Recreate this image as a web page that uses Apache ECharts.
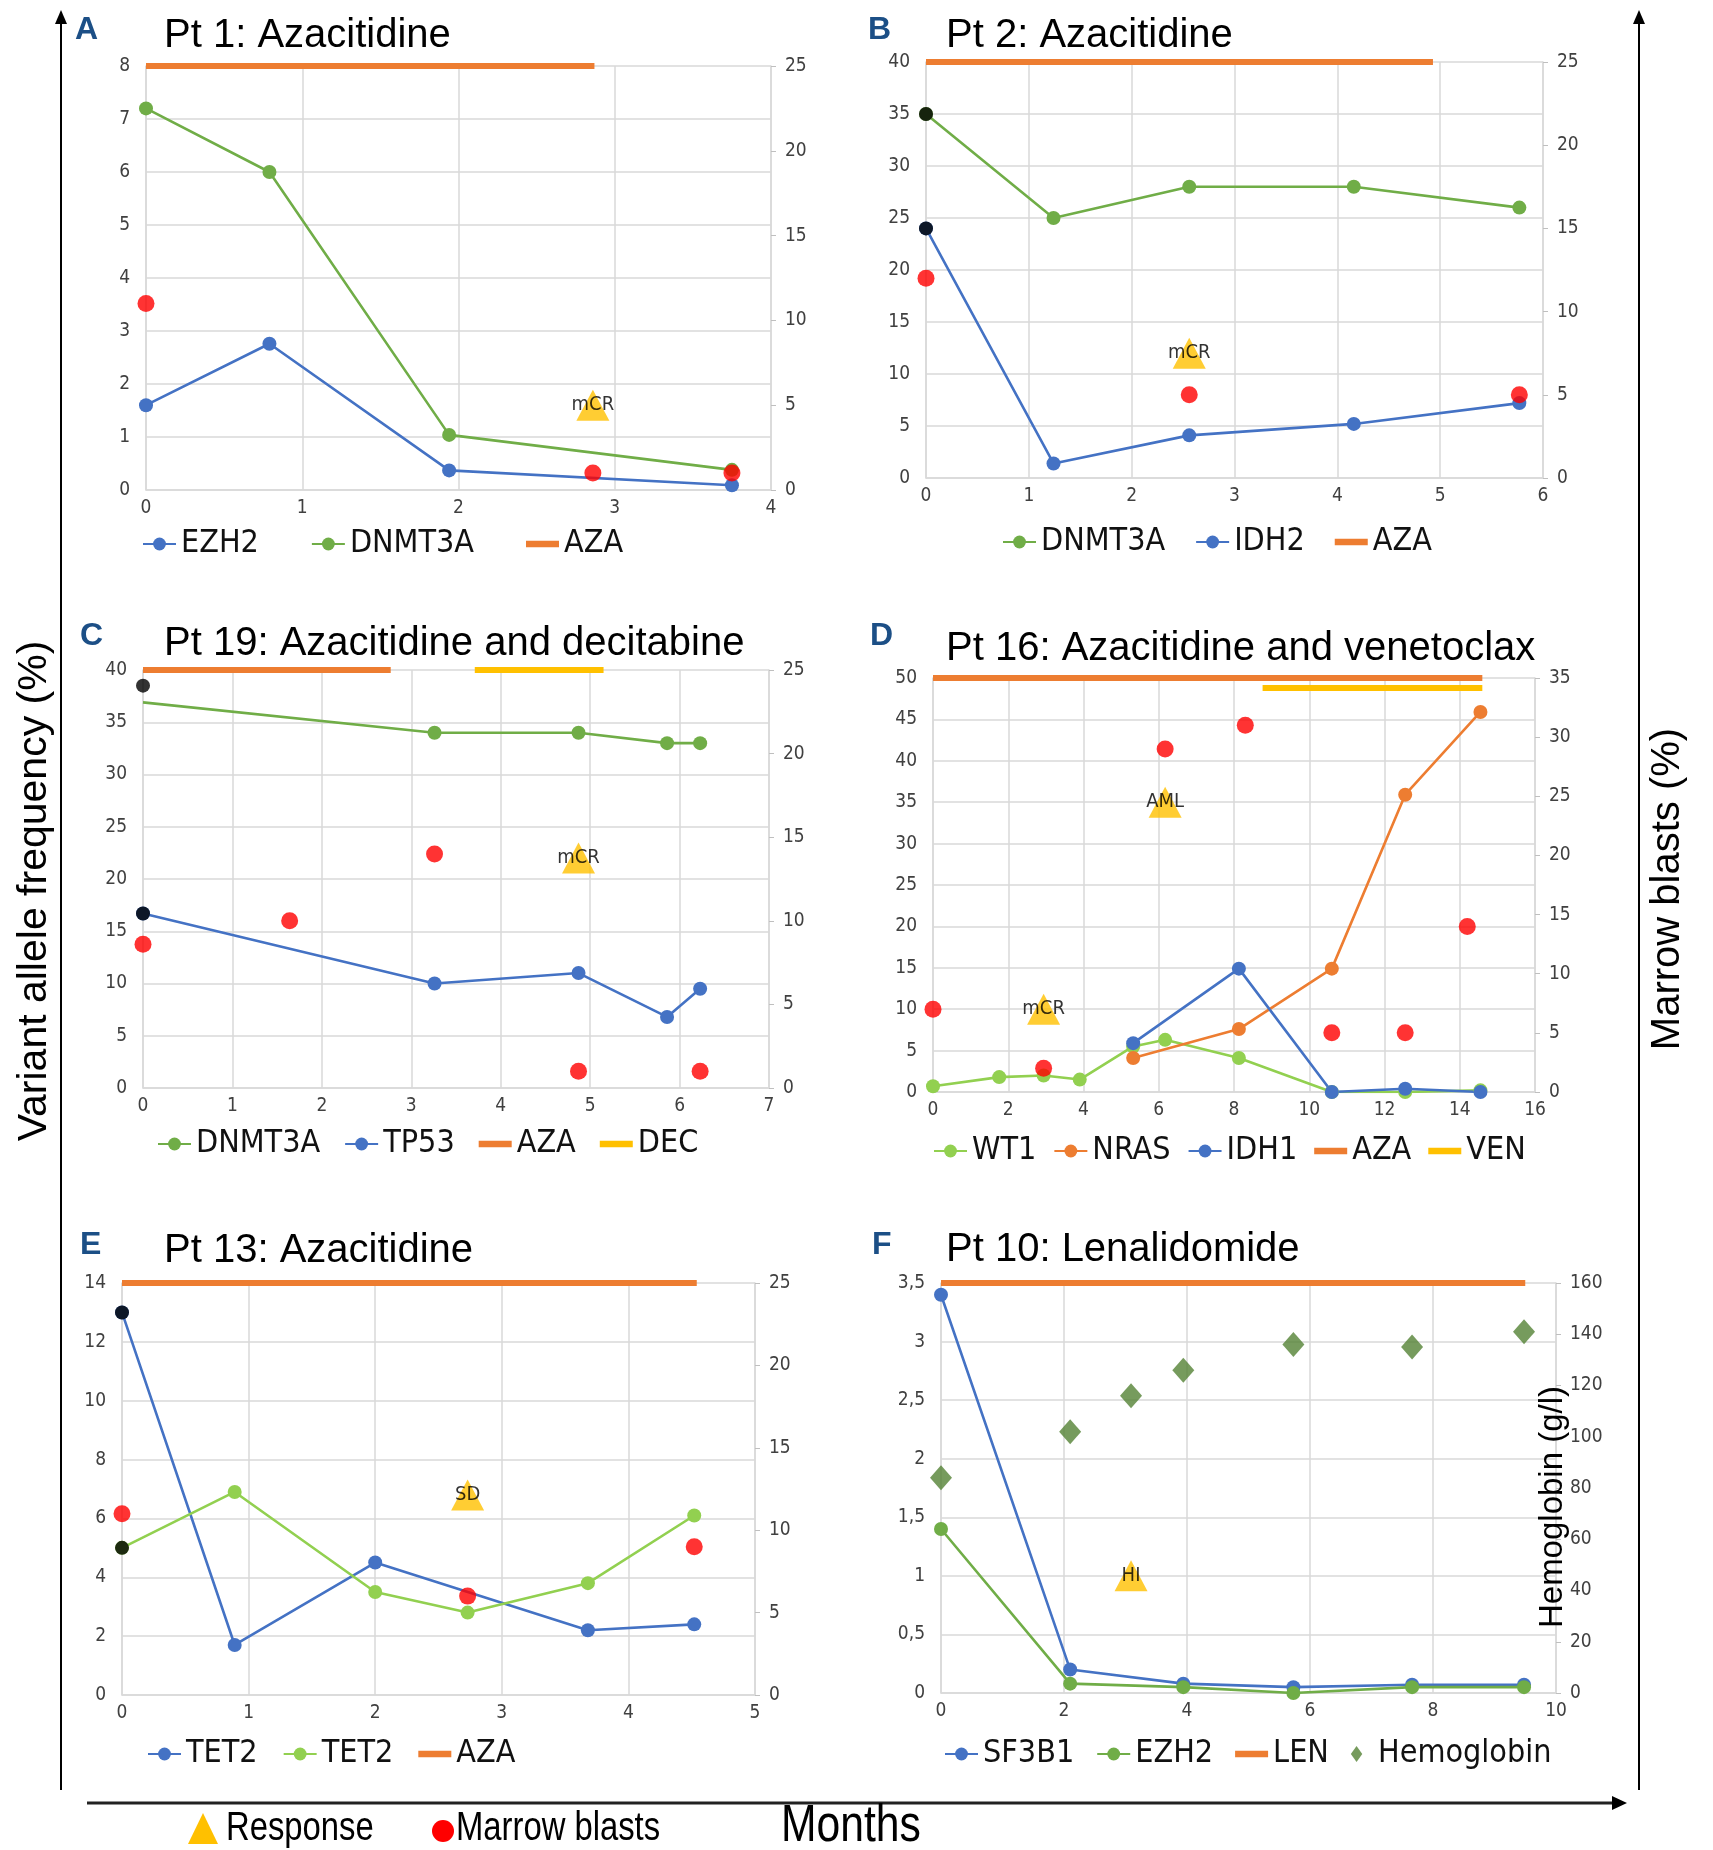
<!DOCTYPE html>
<html>
<head>
<meta charset="utf-8">
<script src="https://cdn.jsdelivr.net/npm/echarts@6/dist/echarts.min.js"></script>
<style>
  body { margin: 0; background: #fff; }
  .layer { position: absolute; left: 0; top: 0; width: 1713px; height: 1850px; }
</style>
</head>
<body>
<div id="bg" class="layer"></div>
<div id="pA" class="layer"></div>
<div id="pB" class="layer"></div>
<div id="pC" class="layer"></div>
<div id="pD" class="layer"></div>
<div id="pE" class="layer"></div>
<div id="pF" class="layer"></div>
<script type="text/javascript">
// ---- data (months on x, VAF % on left axis, marrow blasts % on right axis) ----
// A: Pt 1
var aMonths = [0, 0.79, 1.94, 3.75];
var aEzh2 = [1.6, 2.76, 0.37, 0.09];
var aDnmt3a = [7.2, 6.0, 1.04, 0.38];
var aBlastMonths = [0, 2.86, 3.75];
var aBlasts = [11, 1, 1];
var aRespMonths = [2.86], aRespLevel = [1.6], aRespText = ['mCR'];
var aAza = [0, 2.87];

// B: Pt 2
var bMonths = [0, 1.24, 2.56, 4.16, 5.77];
var bDnmt3a = [35, 25, 28, 28, 26];
var bIdh2 = [24, 1.4, 4.1, 5.2, 7.2];
var bBaseline = [35, 24];
var bBlastMonths = [0, 2.56, 5.77];
var bBlasts = [12, 5, 5];
var bRespMonths = [2.56], bRespLevel = [12], bRespText = ['mCR'];
var bAza = [0, 4.93];

// C: Pt 19
var cMonths = [0, 3.26, 4.87, 5.86, 6.23];
var cDnmt3a = [36.9, 34, 34, 33, 33];
var cTp53 = [16.7, 10, 11, 6.8, 9.5];
var cBaseline = [38.5, 16.7];
var cBlastMonths = [0, 1.64, 3.26, 4.87, 6.23];
var cBlasts = [8.6, 10, 14, 1, 1];
var cRespMonths = [4.87], cRespLevel = [22], cRespText = ['mCR'];
var cAza = [0, 2.77];
var cDec = [3.71, 5.15];

// D: Pt 16
var dWt1Months = [0, 1.76, 2.94, 3.9, 5.32, 6.17, 8.13, 10.6, 12.55, 14.55];
var dWt1 = [0.7, 1.8, 2.0, 1.5, 5.5, 6.3, 4.1, 0, 0, 0.2];
var dMonths = [5.32, 8.13, 10.6, 12.55, 14.55];
var dNras = [4.1, 7.6, 14.9, 35.9, 45.9];
var dIdh1 = [5.9, 14.9, 0, 0.4, 0];
var dBlastMonths = [0, 2.94, 6.17, 8.3, 10.6, 12.55, 14.2];
var dBlasts = [7, 2, 29, 31, 5, 5, 14];
var dRespMonths = [2.94, 6.17], dRespLevel = [10, 35], dRespText = ['mCR', 'AML'];
var dAza = [0, 14.6];
var dVen = [8.76, 14.6];
var dVenLevel = 48.8;

// E: Pt 13
var eMonths1 = [0, 0.89, 2.0, 3.68, 4.52];
var eTet2a = [13, 1.7, 4.5, 2.2, 2.4];
var eMonths2 = [0, 0.89, 2.0, 2.73, 3.68, 4.52];
var eTet2b = [5, 6.9, 3.5, 2.8, 3.8, 6.1];
var eBaseline = [13, 5];
var eBlastMonths = [0, 2.73, 4.52];
var eBlasts = [11, 6, 9];
var eRespMonths = [2.73], eRespLevel = [6.8], eRespText = ['SD'];
var eAza = [0, 4.54];

// F: Pt 10
var fMonths = [0, 2.1, 3.94, 5.73, 7.66, 9.48];
var fSf3b1 = [3.4, 0.2, 0.08, 0.05, 0.07, 0.07];
var fEzh2 = [1.4, 0.08, 0.05, 0.0, 0.05, 0.05];
var fHbMonths = [0, 2.1, 3.09, 3.94, 5.73, 7.66, 9.48];
var fHb = [84, 102, 116, 126, 136, 135, 141];
var fRespMonths = [3.09], fRespLevel = [1.0], fRespText = ['HI'];
var fLen = [0, 9.5];

// ---- styles ----
var NARROW = "'Liberation Sans Narrow', 'Arial Narrow', 'DejaVu Sans Condensed', sans-serif";
var SANS = "'Liberation Sans', Arial, sans-serif";
var BLUE = '#4472c4', GREEN = '#70ad47', LIME = '#92d050', ORANGE = '#ed7d31',
    GOLD = '#ffc000', RED = '#ff0000', GRIDC = '#d9d9d9', HBC = '#548235';
var BAR_ICON = 'path://M0,0 H40 V8 H0 Z';
var DIAMOND_ICON = 'path://M5,0 L10,7 L5,14 L0,7 Z';

function xy(xs, ys) {
  return xs.map(function (x, i) { return [x, ys[i]]; });
}

function gene(name, color, xs, ys) {
  return {
    name: name, type: 'line', data: xy(xs, ys),
    symbol: 'circle', symbolSize: 14,
    itemStyle: { color: color }, lineStyle: { color: color, width: 2.6 }, z: 3
  };
}

function drug(name, color, span, level) {
  return {
    name: name, type: 'line', data: [[span[0], level], [span[1], level]],
    symbol: 'none', itemStyle: { color: color },
    lineStyle: { color: color, width: 6 }, clip: false, z: 2
  };
}

function blasts(xs, ys) {
  return {
    name: 'Marrow blasts', type: 'scatter', yAxisIndex: 1, data: xy(xs, ys),
    symbolSize: 17, itemStyle: { color: RED }, z: 6
  };
}

function baseline(ys) {
  return {
    name: 'baseline', type: 'scatter', data: ys.map(function (y) { return [0, y]; }),
    symbolSize: 14, itemStyle: { color: '#000' }, z: 7
  };
}

function response(xs, ys, texts) {
  return {
    name: 'Response', type: 'scatter', data: xy(xs, ys),
    symbol: 'triangle', symbolSize: [33, 31], itemStyle: { color: GOLD }, z: 4,
    label: {
      show: true, position: 'inside', color: '#000', fontSize: 20, fontFamily: NARROW,
      formatter: function (p) { return texts[p.dataIndex]; }
    }
  };
}

function makePanel(id, p) {
  var chart = echarts.init(document.getElementById(id));
  var tick = { fontSize: 19, fontFamily: NARROW, color: '#404040' };
  var icons = p.legend.icons || {};
  chart.setOption({
    animation: false,
    title: [
      { text: p.letter, left: p.letterAt[0], top: p.letterAt[1], padding: 0,
        textStyle: { fontSize: 32, fontWeight: 'bold', fontFamily: SANS, color: '#1c4f86', lineHeight: 32 } },
      { text: p.title, left: p.titleAt[0], top: p.titleAt[1], padding: 0,
        textStyle: { fontSize: 40, fontWeight: 'normal', fontFamily: SANS, color: '#000', lineHeight: 40 } }
    ],
    legend: {
      left: p.legend.left, top: p.legend.top, itemGap: p.legend.gap,
      itemWidth: 33, itemHeight: 16, padding: 0, selectedMode: false,
      data: p.legend.names.map(function (n) {
        return icons[n] ? { name: n, icon: icons[n] } : { name: n };
      }),
      formatter: function (n) { return n.replace(/\s+$/, ''); },
      textStyle: { fontSize: 32, fontFamily: NARROW, color: '#111', lineHeight: 36 }
    },
    grid: { left: p.grid[0], top: p.grid[1], width: p.grid[2], height: p.grid[3] },
    xAxis: {
      type: 'value', min: 0, max: p.x[0], interval: p.x[1],
      axisLine: { show: true, lineStyle: { color: GRIDC, width: 1.5 } },
      axisTick: { show: false },
      splitLine: { show: true, lineStyle: { color: GRIDC, width: 1.5 } },
      axisLabel: Object.assign({ margin: 9 }, tick)
    },
    yAxis: [
      {
        type: 'value', min: 0, max: p.yL[0], interval: p.yL[1],
        axisLine: { show: true, lineStyle: { color: GRIDC, width: 1.5 } },
        axisTick: { show: false },
        splitLine: { show: true, lineStyle: { color: GRIDC, width: 1.5 } },
        axisLabel: Object.assign({ margin: 16, formatter: p.fmt }, tick)
      },
      {
        type: 'value', position: 'right', min: 0, max: p.yR[0], interval: p.yR[1],
        axisLine: { show: true, lineStyle: { color: GRIDC, width: 1.5 } },
        axisTick: { show: true, length: 5, lineStyle: { color: '#bfbfbf' } },
        splitLine: { show: false },
        axisLabel: Object.assign({ margin: 14 }, tick)
      }
    ],
    graphic: p.graphic || [],
    series: p.series
  });
  return chart;
}

function caption(x, y, text, size, rot, sx) {
  return {
    type: 'text', x: x, y: y, rotation: rot || 0, scaleX: sx || 1,
    style: { text: text, fontSize: size, fontFamily: SANS, fill: '#000',
             align: rot ? 'center' : 'left', verticalAlign: 'middle',
             textAlign: rot ? 'center' : 'left', textVerticalAlign: 'middle' }
  };
}

// ---- page decorations: arrows, axis captions, symbol key ----
var bg = echarts.init(document.getElementById('bg'));
bg.setOption({
  animation: false,
  graphic: [
    { type: 'line', shape: { x1: 61, y1: 1790, x2: 61, y2: 20 }, style: { stroke: '#000', lineWidth: 2 } },
    { type: 'polygon', shape: { points: [[55, 24], [67, 24], [61, 10]] }, style: { fill: '#000' } },
    { type: 'line', shape: { x1: 1639, y1: 1790, x2: 1639, y2: 20 }, style: { stroke: '#000', lineWidth: 2 } },
    { type: 'polygon', shape: { points: [[1633, 24], [1645, 24], [1639, 10]] }, style: { fill: '#000' } },
    { type: 'line', shape: { x1: 87, y1: 1803, x2: 1616, y2: 1803 }, style: { stroke: '#222', lineWidth: 3 } },
    { type: 'polygon', shape: { points: [[1612, 1796], [1612, 1810], [1627, 1803]] }, style: { fill: '#000' } },
    caption(35, 891, 'Variant allele frequency (%)', 41, Math.PI / 2),
    caption(1668, 889, 'Marrow blasts (%)', 40, Math.PI / 2),
    { type: 'polygon', shape: { points: [[188, 1844], [218, 1844], [203, 1813]] }, style: { fill: GOLD } },
    caption(226, 1829, 'Response', 40, 0, 0.82),
    { type: 'circle', shape: { cx: 443, cy: 1831, r: 11 }, style: { fill: RED } },
    caption(456, 1829, 'Marrow blasts', 40, 0, 0.82),
    caption(781, 1827, 'Months', 52, 0, 0.82)
  ]
});

// ---- panels ----
makePanel('pA', {
  letter: 'A', letterAt: [75, 14], title: 'Pt 1: Azacitidine', titleAt: [164, 16],
  grid: [146, 66, 625, 424], x: [4, 1], yL: [8, 1], yR: [25, 5],
  legend: { left: 142, top: 526, gap: 52, names: ['EZH2', 'DNMT3A', 'AZA'], icons: { AZA: BAR_ICON } },
  series: [
    drug('AZA', ORANGE, aAza, 8),
    gene('EZH2', BLUE, aMonths, aEzh2),
    gene('DNMT3A', GREEN, aMonths, aDnmt3a),
    response(aRespMonths, aRespLevel, aRespText),
    blasts(aBlastMonths, aBlasts)
  ]
});

makePanel('pB', {
  letter: 'B', letterAt: [868, 14], title: 'Pt 2: Azacitidine', titleAt: [946, 16],
  grid: [926, 62, 617, 416], x: [6, 1], yL: [40, 5], yR: [25, 5],
  legend: { left: 1002, top: 524, gap: 30, names: ['DNMT3A', 'IDH2', 'AZA'], icons: { AZA: BAR_ICON } },
  series: [
    drug('AZA', ORANGE, bAza, 40),
    gene('DNMT3A', GREEN, bMonths, bDnmt3a),
    gene('IDH2', BLUE, bMonths, bIdh2),
    baseline(bBaseline),
    response(bRespMonths, bRespLevel, bRespText),
    blasts(bBlastMonths, bBlasts)
  ]
});

var cGreen = gene('DNMT3A', GREEN, cMonths, cDnmt3a);
cGreen.symbol = function (v, params) { return params.dataIndex === 0 ? 'none' : 'circle'; };
makePanel('pC', {
  letter: 'C', letterAt: [80, 620], title: 'Pt 19: Azacitidine and decitabine', titleAt: [164, 624],
  grid: [143, 670, 626, 418], x: [7, 1], yL: [40, 5], yR: [25, 5],
  legend: { left: 157, top: 1126, gap: 24, names: ['DNMT3A', 'TP53', 'AZA', 'DEC'],
            icons: { AZA: BAR_ICON, DEC: BAR_ICON } },
  series: [
    drug('AZA', ORANGE, cAza, 40),
    drug('DEC', GOLD, cDec, 40),
    cGreen,
    gene('TP53', BLUE, cMonths, cTp53),
    baseline(cBaseline),
    response(cRespMonths, cRespLevel, cRespText),
    blasts(cBlastMonths, cBlasts)
  ]
});

makePanel('pD', {
  letter: 'D', letterAt: [870, 620], title: 'Pt 16: Azacitidine and venetoclax', titleAt: [946, 629],
  grid: [933, 678, 602, 414], x: [16, 2], yL: [50, 5], yR: [35, 5],
  legend: { left: 933, top: 1133, gap: 17, names: ['WT1', 'NRAS', 'IDH1', 'AZA', 'VEN'],
            icons: { AZA: BAR_ICON, VEN: BAR_ICON } },
  series: [
    drug('AZA', ORANGE, dAza, 50),
    drug('VEN', GOLD, dVen, dVenLevel),
    gene('WT1', LIME, dWt1Months, dWt1),
    gene('NRAS', ORANGE, dMonths, dNras),
    gene('IDH1', BLUE, dMonths, dIdh1),
    response(dRespMonths, dRespLevel, dRespText),
    blasts(dBlastMonths, dBlasts)
  ]
});

makePanel('pE', {
  letter: 'E', letterAt: [80, 1229], title: 'Pt 13: Azacitidine', titleAt: [164, 1231],
  grid: [122, 1283, 633, 412], x: [5, 1], yL: [14, 2], yR: [25, 5],
  legend: { left: 147, top: 1736, gap: 25, names: ['TET2', 'TET2 ', 'AZA'], icons: { AZA: BAR_ICON } },
  series: [
    drug('AZA', ORANGE, eAza, 14),
    gene('TET2', BLUE, eMonths1, eTet2a),
    gene('TET2 ', LIME, eMonths2, eTet2b),
    baseline(eBaseline),
    response(eRespMonths, eRespLevel, eRespText),
    blasts(eBlastMonths, eBlasts)
  ]
});

makePanel('pF', {
  letter: 'F', letterAt: [872, 1229], title: 'Pt 10: Lenalidomide', titleAt: [946, 1230],
  grid: [941, 1283, 615, 410], x: [10, 2], yL: [3.5, 0.5], yR: [160, 20],
  fmt: function (v) { return String(v).replace('.', ','); },
  legend: { left: 944, top: 1736, gap: 22, names: ['SF3B1', 'EZH2', 'LEN', 'Hemoglobin'],
            icons: { LEN: BAR_ICON, Hemoglobin: DIAMOND_ICON } },
  graphic: [
    Object.assign(caption(1553, 1507, 'Hemoglobin (g/l)', 33, Math.PI / 2), { z: 10 })
  ],
  series: [
    drug('LEN', ORANGE, fLen, 3.5),
    gene('SF3B1', BLUE, fMonths, fSf3b1),
    gene('EZH2', GREEN, fMonths, fEzh2),
    { name: 'Hemoglobin', type: 'scatter', yAxisIndex: 1, data: xy(fHbMonths, fHb),
      symbol: 'diamond', symbolSize: [22, 25], itemStyle: { color: HBC }, z: 5 },
    response(fRespMonths, fRespLevel, fRespText)
  ]
});
</script>
</body>
</html>
